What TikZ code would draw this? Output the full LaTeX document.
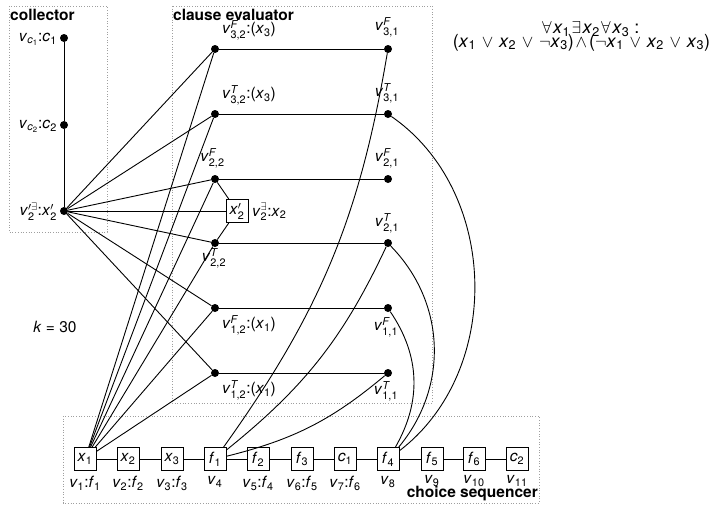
\documentclass[tikz,border=0pt]{standalone}
\usepackage{amsmath}
\usepackage{fontspec}
\setmainfont{TeX Gyre Heros}
\newcommand{\ti}[1]{\textit{#1}}
\newcommand{\tu}[1]{\textup{#1}}
\newcommand{\qq}[1]{\mkern1.5mu#1\mkern1.5mu}
\newcommand{\myor}{\mathbin{\mkern2mu\vee\mkern2mu}}
\newcommand{\myand}{\mathbin{\mkern2mu\wedge\mkern2mu}}
\begin{document}
\begin{tikzpicture}[x=1pt,y=-1pt,
  font=\fontsize{15.5}{18}\selectfont,
  dotn/.style={circle,fill=black,inner sep=0pt,minimum size=8pt},
  varbox/.style={draw,line width=0.9pt,inner sep=0pt,minimum width=22pt,minimum height=23pt},
  lab/.style={inner sep=0pt},
  frm/.style={inner sep=0pt,font=\fontsize{18}{20}\selectfont},
  region/.style={draw=gray!75,dotted,line width=0.7pt},
  edge/.style={line width=0.9pt},
  ttl/.style={font=\fontsize{15.5}{18}\selectfont\bfseries,inner sep=0pt}]
\useasboundingbox (0,0) rectangle (722,504);
% regions
\draw[region] (9,6) rectangle (107,232);
\draw[region] (172,6) rectangle (432,403);
\draw[region] (63,416) rectangle (539,503);
\node[ttl,anchor=base west] (tcol) at (10,20.5) {collector};
\node[ttl,anchor=base west] (tce) at (173,20.5) {clause evaluator};
% formula
\node[frm,anchor=base] (fa) at (590,33.5) {$\qq{\forall}$\ti{x}$_{\tu{1}}\qq{\exists}$\ti{x}$_{\tu{2}}\qq{\forall}$\ti{x}$_{\tu{3}}$ :};
\node[frm,anchor=base] (fb) at (581.5,47) {(\ti{x}$_{\tu{1}}\myor{}$\ti{x}$_{\tu{2}}\myor\neg$\ti{x}$_{\tu{3}}$)$\myand$($\neg$\ti{x}$_{\tu{1}}\myor{}$\ti{x}$_{\tu{2}}\myor{}$\ti{x}$_{\tu{3}}$)};
\node[lab,anchor=base] (kk) at (55,332) {\ti{k} = 30};
% collector
\node[dotn] (c1) at (64,38) {};
\node[dotn] (c2) at (64,125) {};
\node[dotn] (xp) at (64,211) {};
\node[lab,anchor=base east] (lc1) at (57,41.5) {\ti{v}$_{\ti{c}_{\tu{1}}}$:\ti{c}$_{\tu{1}}$};
\node[lab,anchor=base east] (lc2) at (57,128.5) {\ti{v}$_{\ti{c}_{\tu{2}}}$:\ti{c}$_{\tu{2}}$};
\node[lab,anchor=base east] (lxp) at (57,215.5) {\ti{v}$'^{\exists}_{\tu{2}}$:\ti{x}$'_{\tu{2}}$};
% clause evaluator
\node[dotn] (a32F) at (215,49) {};
\node[dotn] (a32T) at (215,114) {};
\node[dotn] (a22F) at (215,179) {};
\node[dotn] (a22T) at (215,243) {};
\node[dotn] (a12F) at (215,308) {};
\node[dotn] (a12T) at (215,373) {};
\node[dotn] (b31F) at (388,49) {};
\node[dotn] (b31T) at (388,114) {};
\node[dotn] (b21F) at (388,179) {};
\node[dotn] (b21T) at (388,243) {};
\node[dotn] (b11F) at (388,308) {};
\node[dotn] (b11T) at (388,373) {};
\node[varbox] (x2p) at (237,211) {\ti{x}$'_{\tu{2}}$};
\node[lab,anchor=base west] (lx2p) at (252,216) {\ti{v}$^{\exists}_{\tu{2}}$:\ti{x}$_{\tu{2}}$};
\node[lab,anchor=south west] (la32F) at (222,40) {\ti{v}$^{\ti{F}}_{\tu{3,2}}$:(\ti{x}$_{\tu{3}}$)};
\node[lab,anchor=south west] (la32T) at (222,105) {\ti{v}$^{\ti{T}}_{\tu{3,2}}$:(\ti{x}$_{\tu{3}}$)};
\node[lab,anchor=south] (la22F) at (212.5,168) {\ti{v}$^{\ti{F}}_{\tu{2,2}}$};
\node[lab,anchor=north] (la22T) at (214,248) {\ti{v}$^{\ti{T}}_{\tu{2,2}}$};
\node[lab,anchor=north west] (la12F) at (222,315) {\ti{v}$^{\ti{F}}_{\tu{1,2}}$:(\ti{x}$_{\tu{1}}$)};
\node[lab,anchor=north west] (la12T) at (222,380) {\ti{v}$^{\ti{T}}_{\tu{1,2}}$:(\ti{x}$_{\tu{1}}$)};
\node[lab,anchor=south] (lb31F) at (387,37) {\ti{v}$^{\ti{F}}_{\tu{3,1}}$};
\node[lab,anchor=south] (lb31T) at (387,103) {\ti{v}$^{\ti{T}}_{\tu{3,1}}$};
\node[lab,anchor=south] (lb21F) at (387,168) {\ti{v}$^{\ti{F}}_{\tu{2,1}}$};
\node[lab,anchor=south] (lb21T) at (387,233) {\ti{v}$^{\ti{T}}_{\tu{2,1}}$};
\node[lab,anchor=north] (lb11F) at (386,317) {\ti{v}$^{\ti{F}}_{\tu{1,1}}$};
\node[lab,anchor=north] (lb11T) at (386,381) {\ti{v}$^{\ti{T}}_{\tu{1,1}}$};
% choice sequencer
\node[varbox] (x1) at (85,459) {\ti{x}$_{\tu{1}}$};
\node[varbox] (x2) at (128,459) {\ti{x}$_{\tu{2}}$};
\node[varbox] (x3) at (172,459) {\ti{x}$_{\tu{3}}$};
\node[varbox] (f1) at (215,459) {\ti{f}$_{\tu{1}}$};
\node[varbox] (f2) at (258,459) {\ti{f}$_{\tu{2}}$};
\node[varbox] (f3) at (302,459) {\ti{f}$_{\tu{3}}$};
\node[varbox] (cc1) at (345,459) {\ti{c}$_{\tu{1}}$};
\node[varbox] (f4) at (388,459) {\ti{f}$_{\tu{4}}$};
\node[varbox] (f5) at (432,459) {\ti{f}$_{\tu{5}}$};
\node[varbox] (f6) at (474,459) {\ti{f}$_{\tu{6}}$};
\node[varbox] (cc2) at (517,459) {\ti{c}$_{\tu{2}}$};
\node[lab,anchor=north] (l1) at (85,476) {\ti{v}$_{\tu{1}}$:\ti{f}$_{\tu{1}}$};
\node[lab,anchor=north] (l2) at (128,476) {\ti{v}$_{\tu{2}}$:\ti{f}$_{\tu{2}}$};
\node[lab,anchor=north] (l3) at (172,476) {\ti{v}$_{\tu{3}}$:\ti{f}$_{\tu{3}}$};
\node[lab,anchor=north] (l4) at (215,476) {\ti{v}$_{\tu{4}}$};
\node[lab,anchor=north] (l5) at (258,476) {\ti{v}$_{\tu{5}}$:\ti{f}$_{\tu{4}}$};
\node[lab,anchor=north] (l6) at (302,476) {\ti{v}$_{\tu{6}}$:\ti{f}$_{\tu{5}}$};
\node[lab,anchor=north] (l7) at (345,476) {\ti{v}$_{\tu{7}}$:\ti{f}$_{\tu{6}}$};
\node[lab,anchor=north] (l8) at (388,476) {\ti{v}$_{\tu{8}}$};
\node[lab,anchor=north] (l9) at (432,475) {\ti{v}$_{\tu{9}}$};
\node[lab,anchor=north] (l10) at (474,475) {\ti{v}$_{\tu{10}}$};
\node[lab,anchor=north] (l11) at (517,475) {\ti{v}$_{\tu{11}}$};
\node[ttl,anchor=base east] (tcs) at (538,497) {choice sequencer};
% edges
\draw[edge] (c1) -- (c2) -- (xp);
\foreach \t in {a32F,a32T,a22F,x2p,a22T,a12F,a12T} \draw[edge] (xp) -- (\t);
\foreach \t in {a32F,a32T,a22F,a22T,a12F,a12T} \draw[edge] (x1) -- (\t);
\draw[edge] (x2p) -- (a22F);
\draw[edge] (x2p) -- (a22T);
\draw[edge] (a32F) -- (b31F);
\draw[edge] (a32T) -- (b31T);
\draw[edge] (a22F) -- (b21F);
\draw[edge] (a22T) -- (b21T);
\draw[edge] (a12F) -- (b11F);
\draw[edge] (a12T) -- (b11T);
\draw[edge] (x1) -- (x2) -- (x3) -- (f1) -- (f2) -- (f3) -- (cc1) -- (f4) -- (f5) -- (f6) -- (cc2);
\draw[edge] (f1) to[bend right=13] (b31F);
\draw[edge] (f1) to[bend right=13] (b21T);
\draw[edge] (f1) to[bend right=13] (b11T);
\draw[edge] (f4) to[bend right=54] (b31T);
\draw[edge] (f4) to[bend right=42] (b21T);
\draw[edge] (f4) to[bend right=32] (b11F);
\end{tikzpicture}
\end{document}
